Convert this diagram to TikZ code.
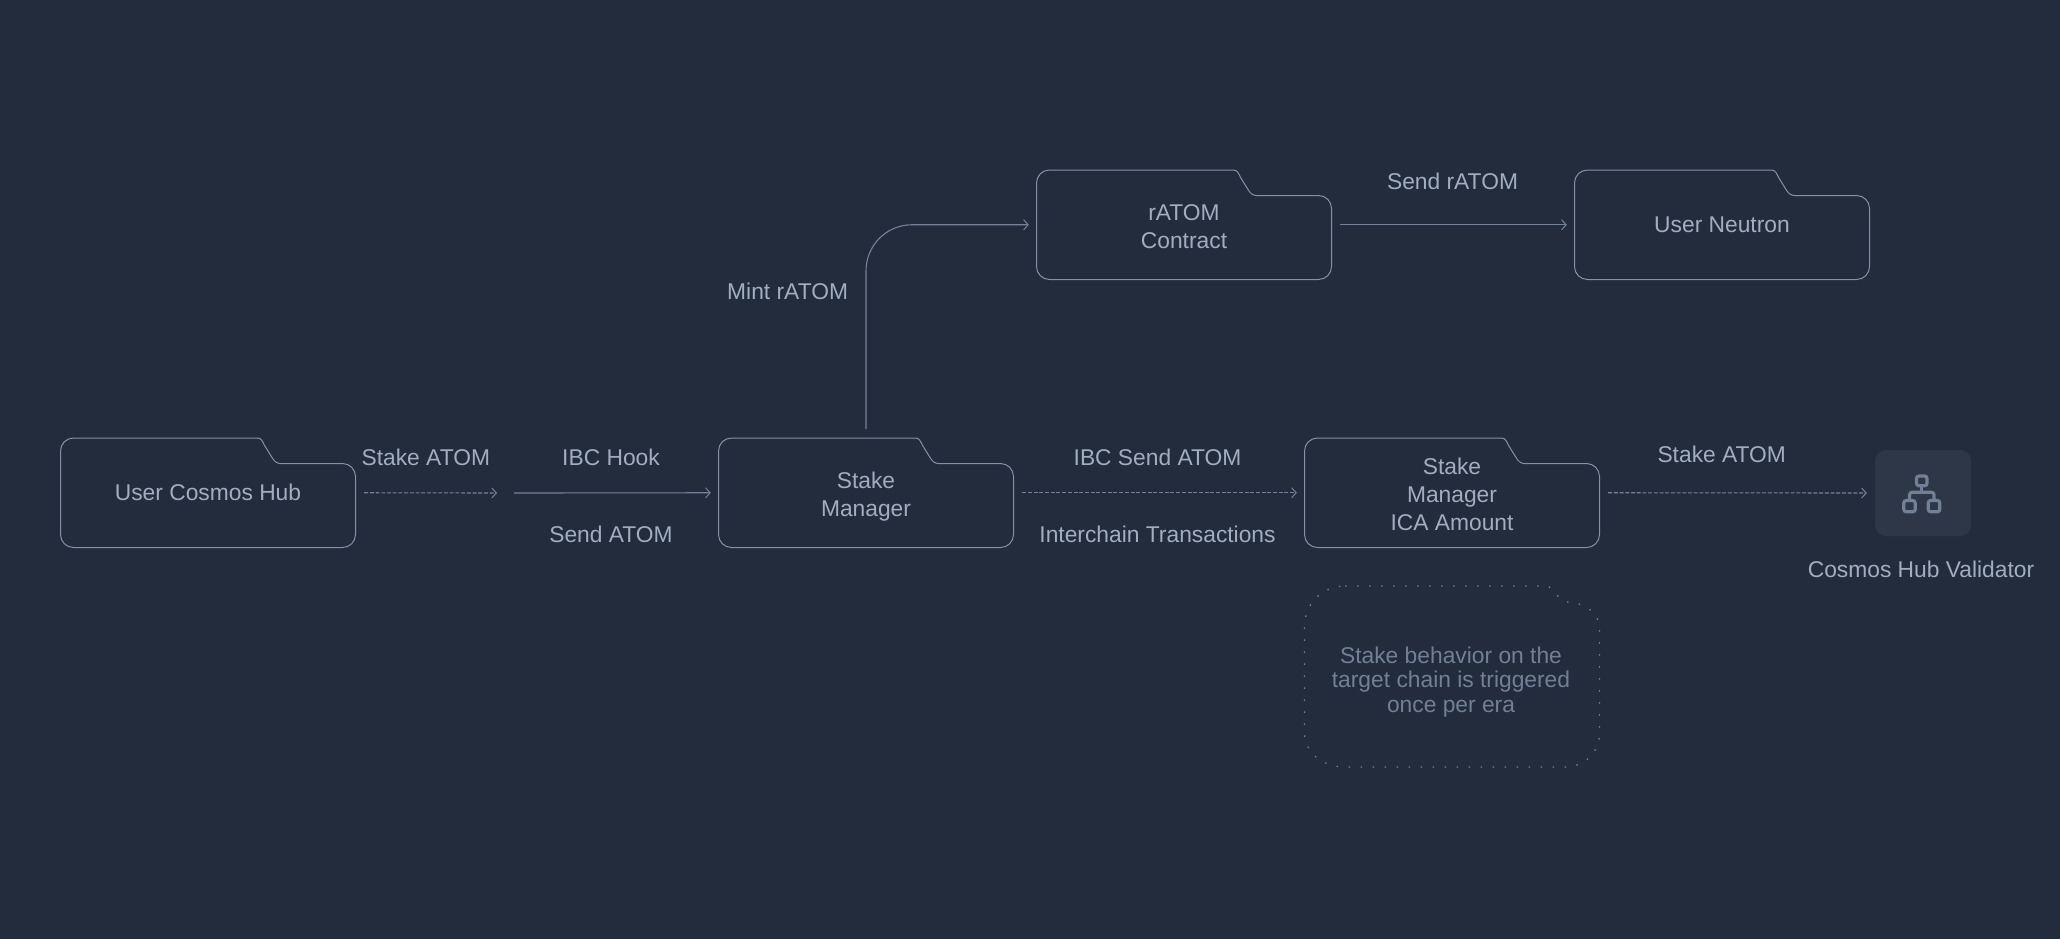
\documentclass[tikz,border=0pt]{standalone}
\usepackage{fontspec}
\setmainfont{Liberation Sans}
\usetikzlibrary{arrows.meta}
\definecolor{bgc}{HTML}{232C3D}
\definecolor{linec}{HTML}{8591A6}
\definecolor{arrc}{HTML}{74829A}
\definecolor{textc}{HTML}{A0AEC0}
\definecolor{notec}{HTML}{718096}
\definecolor{tilec}{HTML}{2D3748}
\newcommand{\labstrut}{\rule[-5pt]{0pt}{26pt}}
\tikzset{
  x=1pt,y=-1pt,
  folderline/.style={draw=linec,line width=1pt},
  labeltext/.style={text=textc,font=\fontsize{22.8}{28}\selectfont,align=center,inner sep=0pt,
    execute at begin node=\labstrut,execute at end node=\labstrut},
  notetext/.style={text=notec,font=\fontsize{22.8}{24.3}\selectfont,align=center,inner sep=0pt,
    execute at begin node=\labstrut,execute at end node=\labstrut},
  folderbox/.style={labeltext,minimum width=295pt,minimum height=109.5pt},
  conn/.style={draw=arrc,line width=1.1pt,-{Straight Barb[length=4.5pt,width=10pt,line width=1pt]}},
  flowdash/.style={dash pattern=on 4pt off 1.7pt},
}
% #1 name, #2 x, #3 y, #4 text
\newcommand{\folderat}[4]{%
  \draw[folderline,shift={(#2,#3)}]
    (13,0) -- (197,0) .. controls (201,0) and (202,3.5) .. (203.8,7)
    -- (211.2,19) .. controls (213.5,23) and (216,25.5) .. (220,25.5)
    -- (282,25.5) .. controls (289.2,25.5) and (295,31.3) .. (295,38.5)
    -- (295,96.5) .. controls (295,103.7) and (289.2,109.5) .. (282,109.5)
    -- (13,109.5) .. controls (5.8,109.5) and (0,103.7) .. (0,96.5)
    -- (0,13) .. controls (0,5.8) and (5.8,0) .. (13,0) -- cycle;
  \node[folderbox] (#1) at (#2+147.5,#3+54.75) {#4};
}
\begin{document}
\begin{tikzpicture}
\useasboundingbox (0,0) rectangle (2060,938);
\fill[bgc] (-5,-5) rectangle (2065,943);

\folderat{cosmos}{60.5}{438}{User Cosmos Hub}
\folderat{manager}{718.5}{438}{\rule{0pt}{23.6pt}Stake\\Manager}
\folderat{ica}{1304.5}{438}{\rule{0pt}{23.6pt}Stake\\Manager\\ICA Amount}
\folderat{ratom}{1036.5}{170}{\rule{0pt}{23.6pt}rATOM\\Contract}
\folderat{neutron}{1574.5}{170}{User Neutron}

\node[fill=tilec,rounded corners=11pt,minimum width=96pt,minimum height=86pt,inner sep=0pt] (validator) at (1923,493) {};
\begin{scope}[draw=notec,line width=3.2pt,rounded corners=2.5pt]
  \draw (1916.5,476) rectangle (1927,485.8);
  \draw (1903.8,500.5) rectangle (1915.2,511.8);
  \draw (1928.2,500.5) rectangle (1939.8,511.8);
  \draw[rounded corners=0pt] (1921.7,486) -- (1921.7,492.3);
  \draw (1909.5,500) -- (1909.5,492.3) -- (1934,492.3) -- (1934,500);
\end{scope}

\coordinate (gapa) at (497,493);
\coordinate (gapb) at (514,493);

\draw[conn,flowdash,shorten <=8.5pt] (cosmos.east) -- (gapa);
\draw[conn,shorten >=7.5pt] (gapb) -- (manager.west);
\draw[conn,flowdash,shorten <=8.5pt,shorten >=7.5pt] (manager.east) -- (ica.west);
\draw[conn,flowdash,shorten <=8.5pt,shorten >=8pt] (ica.east) -- (validator.west);
\draw[conn,rounded corners=46pt,shorten <=9pt,shorten >=7.5pt] (manager.north) |- (ratom.west);
\draw[conn,shorten <=8.5pt,shorten >=7.5pt] (ratom.east) -- (neutron.west);

\node[labeltext] (la) at (425.8,457.5) {Stake ATOM};
\node[labeltext] (lb) at (611,457.5) {IBC Hook};
\node[labeltext] (lc) at (611,534) {Send ATOM};
\node[labeltext] (ld) at (1157.5,457.5) {IBC Send ATOM};
\node[labeltext] (le) at (1157.5,534) {Interchain Transactions};
\node[labeltext] (lf) at (1721.7,454) {Stake ATOM};
\node[labeltext] (lg) at (1921,569.5) {Cosmos Hub Validator};
\node[labeltext] (lh) at (787.6,291.6) {Mint rATOM};
\node[labeltext] (li) at (1452.5,181.5) {Send rATOM};

\draw[draw=notec,line width=1.3pt,dash pattern=on 1.5pt off 10.5pt]
  (1345,586) -- (1547,586) .. controls (1553,588) and (1557,597) .. (1563,600.5)
  .. controls (1567,603) and (1571,602) .. (1575,603)
  .. controls (1590,606) and (1599,616) .. (1599.5,628)
  -- (1599.5,733) .. controls (1599.5,752) and (1585,767) .. (1565,767)
  -- (1345,767) .. controls (1322,767) and (1304.5,752) .. (1304.5,733)
  -- (1304.5,626) .. controls (1304.5,604) and (1322,586) .. (1345,586) -- cycle;
\node[notetext] (note) at (1451,678) {\rule{0pt}{24.9pt}Stake behavior on the\\target chain is triggered\\once per era};
\end{tikzpicture}
\end{document}
